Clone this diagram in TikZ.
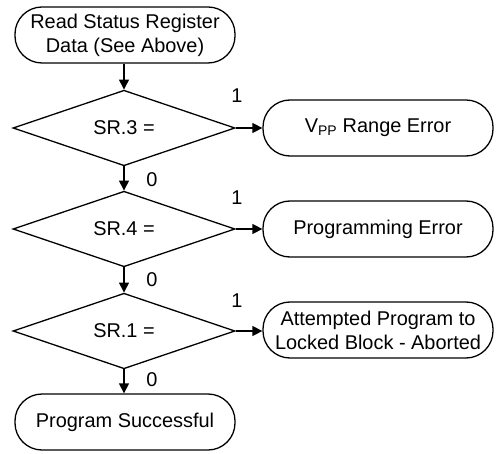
\documentclass[tikz,border=0pt]{standalone}
\usepackage{fontspec}
\setmainfont{Liberation Sans}
\usetikzlibrary{shapes.geometric,arrows.meta}
\tikzset{
  term/.style={draw, line width=1.3bp, rounded corners=27bp, minimum height=56bp, inner sep=2bp, align=center},
  leftterm/.style={term, minimum width=220bp},
  rightterm/.style={term, minimum width=230bp},
  decision/.style={draw, diamond, line width=1.3bp, minimum width=222bp, minimum height=74bp, inner sep=0pt},
  flow/.style={line width=1.3bp, -{Triangle[length=10bp,width=10bp]}},
  lbl/.style={inner sep=0pt}
}
\begin{document}
\begin{tikzpicture}[x=1bp,y=-1bp,font=\fontsize{20}{24}\selectfont]
\useasboundingbox (0,0) rectangle (499,454);
\node[leftterm] (start) at (125,35) {Read Status Register\\Data (See Above)};
\node[decision] (d1) at (124,128) {SR.3 =};
\node[rightterm] (r1) at (378,128) {V\textsubscript{PP} Range Error};
\node[decision] (d2) at (124,229) {SR.4 =};
\node[rightterm] (r2) at (378,229) {Programming Error};
\node[decision] (d3) at (124,331) {SR.1 =};
\node[rightterm] (r3) at (378,330) {Attempted Program to\\Locked Block - Aborted};
\node[leftterm] (done) at (125,422) {Program Successful};

\draw[flow] (start.south -| d1.north) -- (d1.north);
\draw[flow] (d1.east) -- (r1.west |- d1.east);
\draw[flow] (d1.south) -- (d2.north);
\draw[flow] (d2.east) -- (r2.west |- d2.east);
\draw[flow] (d2.south) -- (d3.north);
\draw[flow] (d3.east) -- (r3.west |- d3.east);
\draw[flow] (d3.south) -- (done.north -| d3.south);

\node[lbl] (one1) at (237,96) {1};
\node[lbl] (one2) at (237,198) {1};
\node[lbl] (one3) at (237,301) {1};
\node[lbl] (zero1) at (152,180) {0};
\node[lbl] (zero2) at (152,280) {0};
\node[lbl] (zero3) at (152,380) {0};
\end{tikzpicture}
\end{document}
